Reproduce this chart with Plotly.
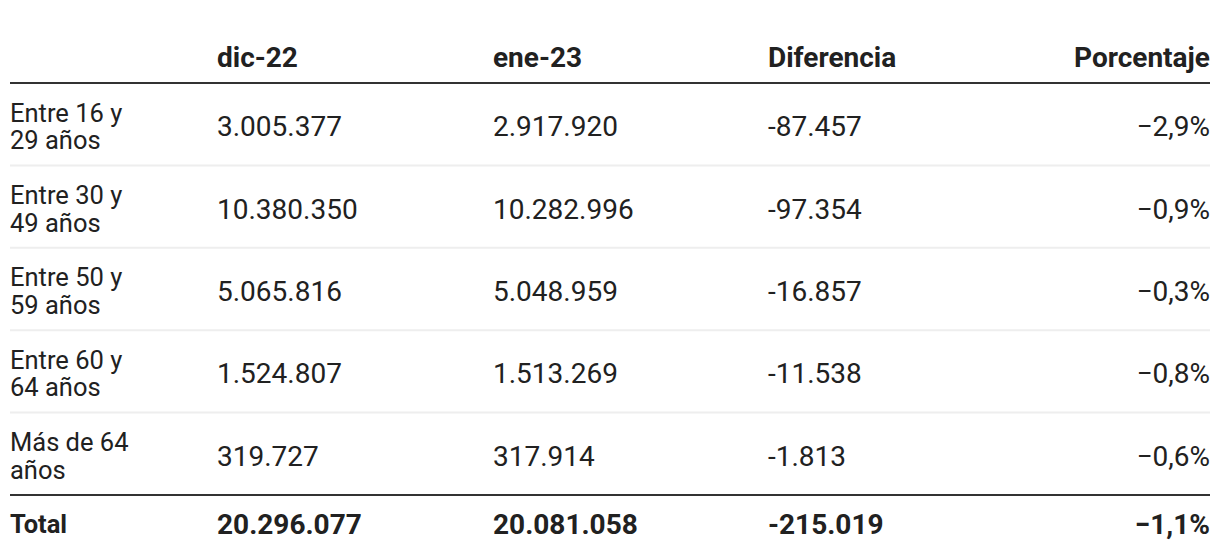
import plotly.graph_objects as go

# ---- data ----
columns = ["", "dic-22", "ene-23", "Diferencia", "Porcentaje"]
row_labels = ["Entre 16 y<br>29 años", "Entre 30 y<br>49 años", "Entre 50 y<br>59 años",
              "Entre 60 y<br>64 años", "Más de 64<br>años"]
dic22 = [3005377, 10380350, 5065816, 1524807, 319727]
ene23 = [2917920, 10282996, 5048959, 1513269, 317914]
diferencia = [-87457, -97354, -16857, -11538, -1813]
porcentaje = [-2.9, -0.9, -0.3, -0.8, -0.6]
total_label = "Total"
total_dic22 = 20296077
total_ene23 = 20081058
total_dif = -215019
total_pct = -1.1


def fmt_int(v):
    return f"{v:,}".replace(",", ".")


def fmt_pct(v):
    s = f"{abs(v):.1f}".replace(".", ",") + "%"
    return ("\u2212" + s) if v < 0 else s


# ---- layout constants ----
FONT = "Roboto"
SIZE = 28
LABEL_SIZE = 25.5
TXT = "#212121"
col_x = [10, 217, 493, 768, 1210]
TEXT_SHIFT = 0.06          # text sits slightly below the row centre
row_y = [i + 1 + TEXT_SHIFT for i in range(5)]
header_y = 0.22
total_y = 5.89
line_off = 0.1675          # half of the label line spacing (row units)

fig = go.Figure()


def add_text(xs, ys, texts, pos, weight=400, size=SIZE):
    fig.add_trace(go.Scatter(
        x=xs, y=ys, text=texts, mode="text", textposition=pos,
        textfont=dict(family=FONT, size=size, color=TXT, weight=weight),
        hoverinfo="skip", showlegend=False, cliponaxis=False))


# header
for i, c in enumerate(columns):
    if not c:
        continue
    add_text([col_x[i]], [header_y], [c], "middle left" if i == 4 else "middle right", 700)

# row labels (two lines each)
for j, lab in enumerate(row_labels):
    parts = lab.split("<br>")
    n = len(parts)
    ys = [row_y[j] + (k - (n - 1) / 2) * 2 * line_off for k in range(n)]
    add_text([col_x[0]] * n, ys, parts, "middle right", size=LABEL_SIZE)

# values
add_text([col_x[1]] * 5, row_y, [fmt_int(v) for v in dic22], "middle right")
add_text([col_x[2]] * 5, row_y, [fmt_int(v) for v in ene23], "middle right")
add_text([col_x[3]] * 5, row_y, [fmt_int(v) for v in diferencia], "middle right")
add_text([col_x[4]] * 5, row_y, [fmt_pct(v) for v in porcentaje], "middle left")

# total row
add_text([col_x[0]], [total_y], [total_label], "middle right", 700, LABEL_SIZE)
add_text([col_x[1], col_x[2], col_x[3]], [total_y] * 3,
         [fmt_int(total_dic22), fmt_int(total_ene23), fmt_int(total_dif)],
         "middle right", 700)
add_text([col_x[4]], [total_y], [fmt_pct(total_pct)], "middle left", 700)

# separators
shapes = []
for k in range(6):
    yk = k + 0.5
    dark = k in (0, 5)
    shapes.append(dict(type="line", xref="x", yref="y", x0=col_x[0], x1=col_x[4], y0=yk, y1=yk,
                       line=dict(color="#333333" if dark else "#eeeeee", width=2)))

# the page body has an 8px margin, so the figure is 8px smaller and the axes
# ranges start at 8 (window pixels)
fig.update_layout(
    width=1212, height=550,
    margin=dict(l=0, r=0, t=0, b=0),
    paper_bgcolor="white", plot_bgcolor="white",
    xaxis=dict(range=[8, 1220], visible=False, fixedrange=True),
    yaxis=dict(range=[6.265, -0.410], visible=False, fixedrange=True),
    shapes=shapes,
)

fig.write_html("out.html")
